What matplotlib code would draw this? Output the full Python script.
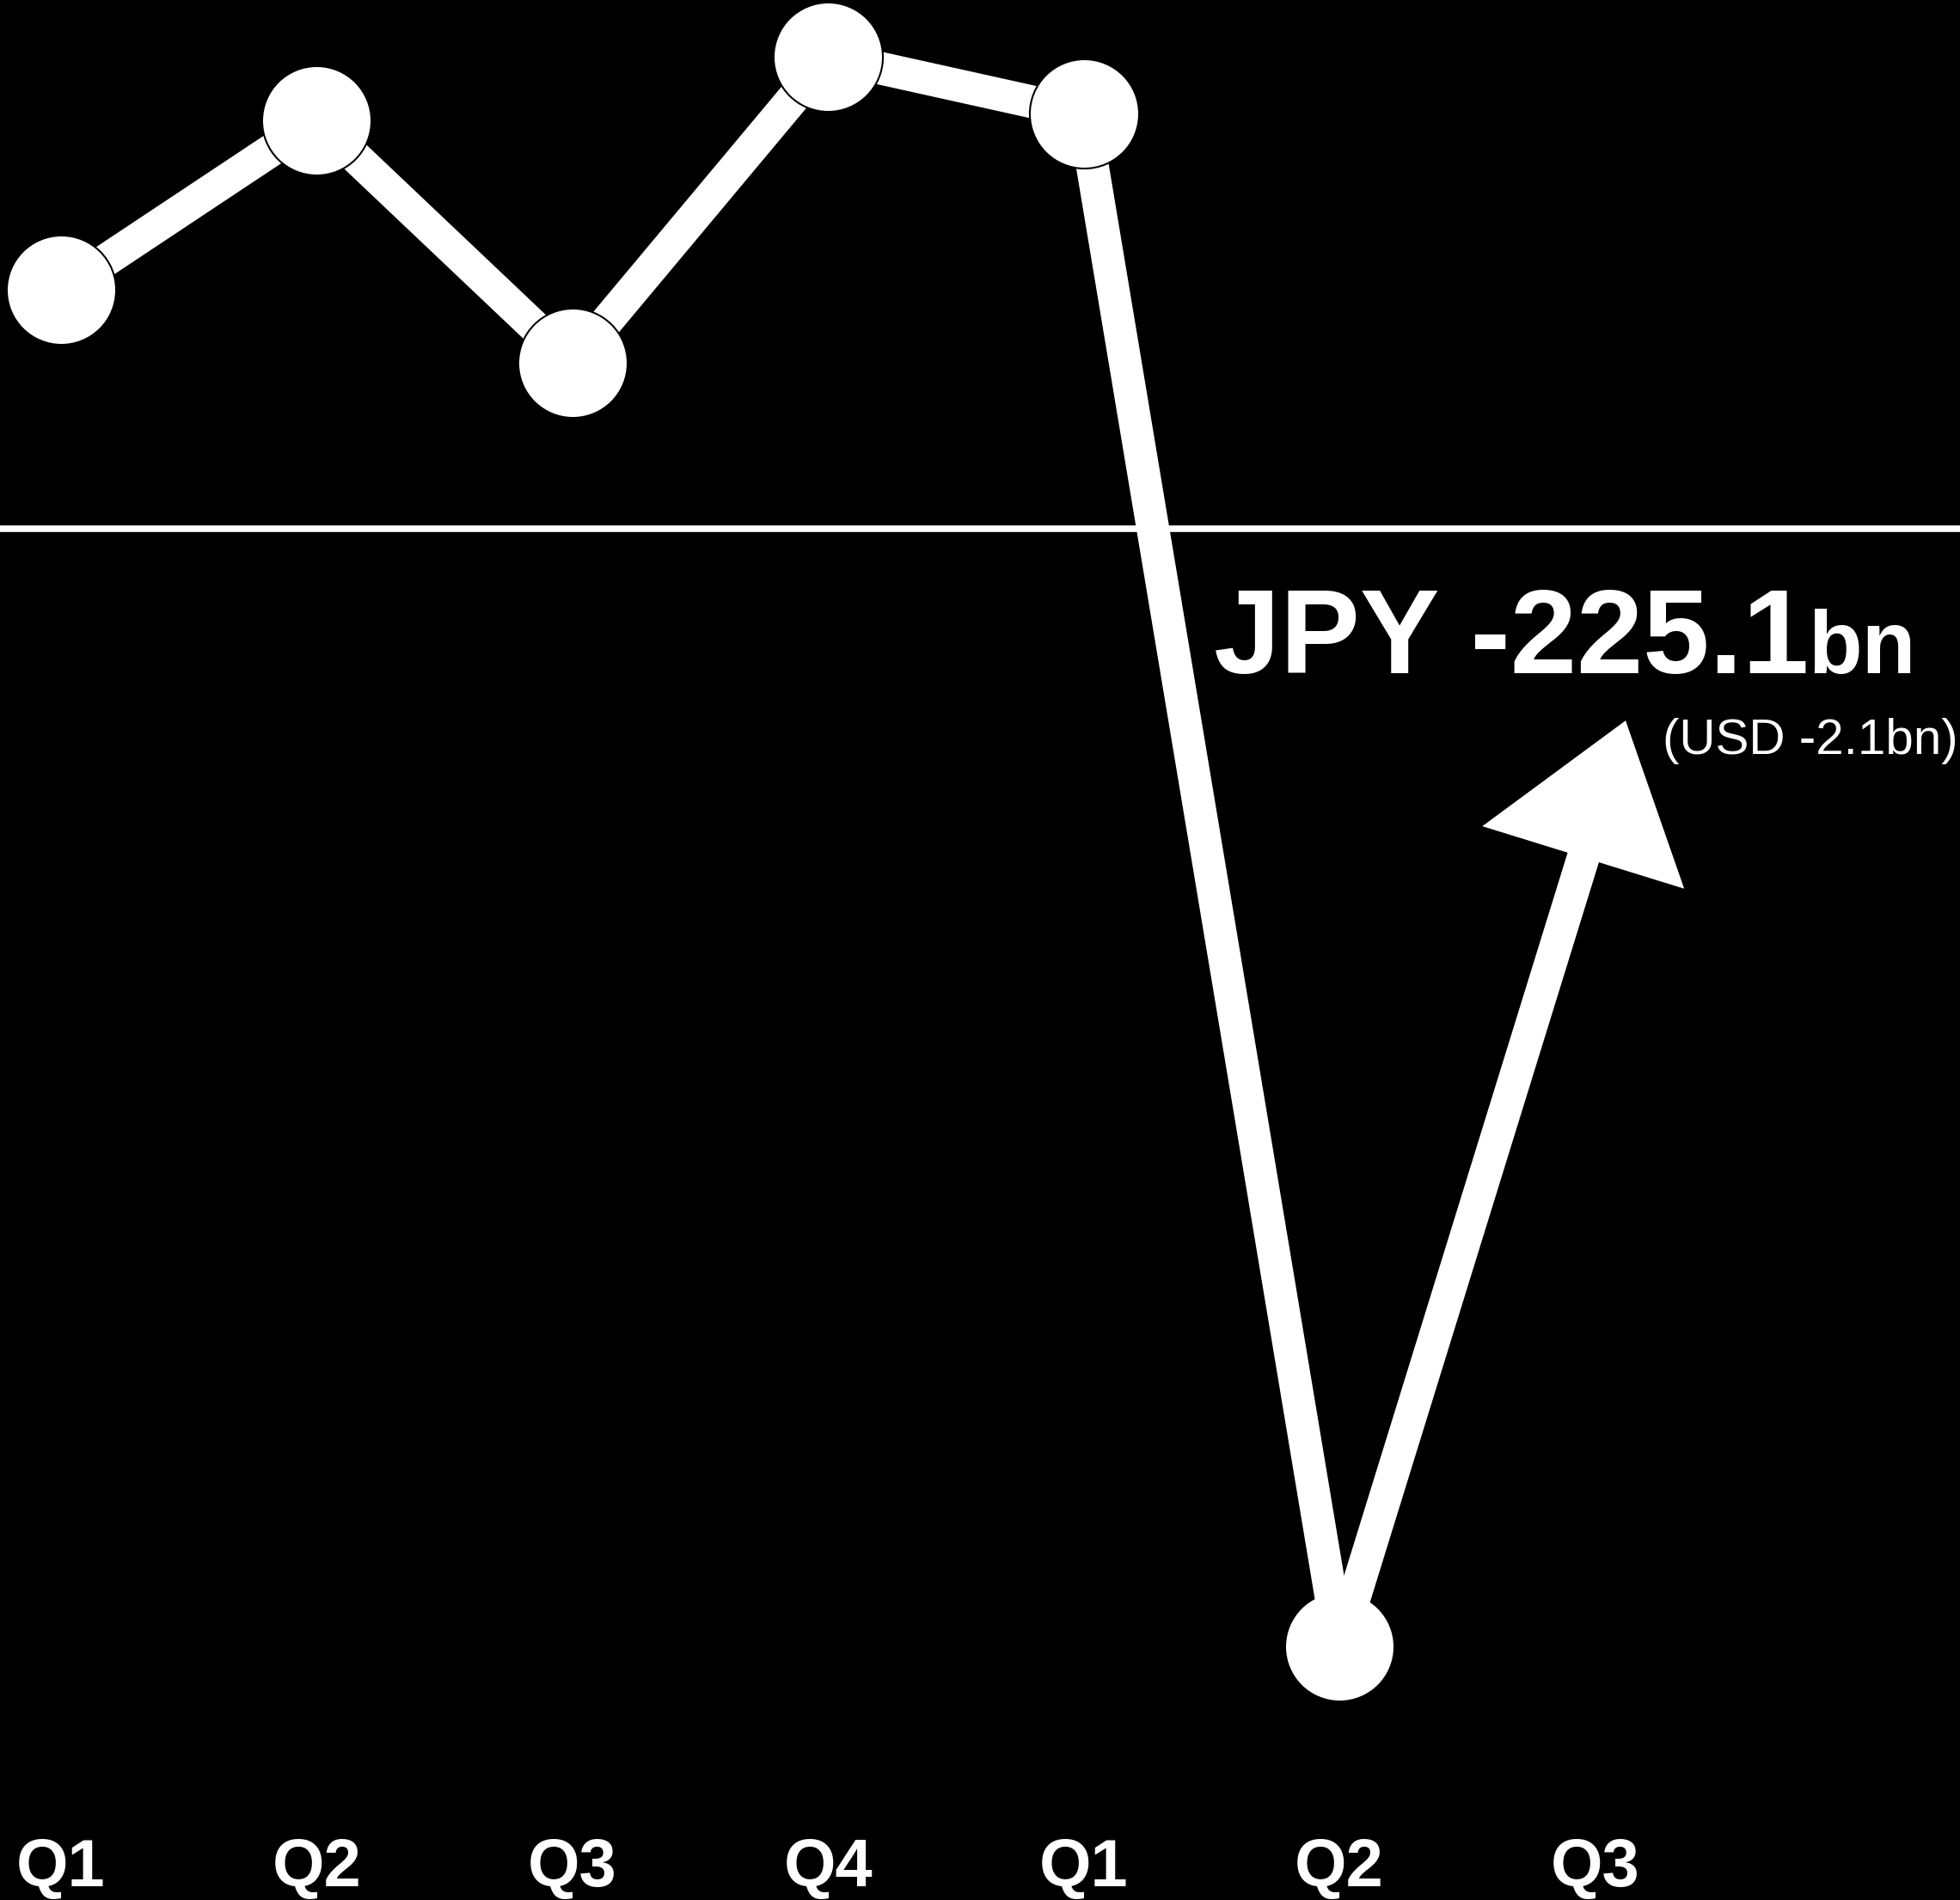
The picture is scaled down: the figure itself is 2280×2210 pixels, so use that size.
import matplotlib
matplotlib.use("Agg")
import matplotlib.pyplot as plt
from matplotlib.patches import FancyArrowPatch

# ----------------------------
# data (JPY bn, quarterly)
# ----------------------------
quarters = ["Q1", "Q2", "Q3", "Q4", "Q1", "Q2", "Q3"]
values = [48.0, 82.2, 33.4, 95.0, 83.6, -225.1]   # last point = latest quarter
arrow_tip = (6.12, -38.7)                          # rebound arrow end (next quarter)
label_main = "JPY -225.1"
label_unit = "bn"
label_usd = "(USD -2.1bn)"

W, H, DPI = 2280, 2210, 100
plt.rcParams['font.family'] = ['Liberation Sans', 'DejaVu Sans']

fig = plt.figure(figsize=(W / DPI, H / DPI), dpi=DPI, facecolor="black")
ax = fig.add_axes([0, 0, 1, 1], facecolor="black")
ax.set_xlim(-0.2387, 7.428)
ax.set_ylim(-276.2, 106.4)
ax.axis("off")

x = list(range(len(values)))

# zero line
ax.axhline(0, color="white", lw=5.5, zorder=1)

# main line
ax.plot(x, values, color="white", lw=27.4, solid_joinstyle="round", zorder=2)

# rebound arrow from last point
arr = FancyArrowPatch((x[-1], values[-1]), arrow_tip,
                      arrowstyle="simple,head_length=120,head_width=177,tail_width=27.4",
                      mutation_scale=1, color="white", lw=0,
                      shrinkA=0, shrinkB=0, zorder=2)
ax.add_patch(arr)

# markers (thin black rim, none on the last one)
ax.plot(x[:-1], values[:-1], "o", ms=91.5, mfc="white", mec="black", mew=1.5, zorder=3)
ax.plot(x[-1:], values[-1:], "o", ms=90, mfc="white", mec="white", mew=0, zorder=3)

# quarter labels along the bottom
for i, q in enumerate(quarters):
    ax.text(i, 16 / H, q, transform=ax.get_xaxis_transform(), ha="center",
            va="baseline", color="white", fontsize=56, fontweight="bold")

# value annotation
fig.text(1412 / W, 1 - 783 / H, label_main, ha="left", va="baseline",
         color="white", fontsize=100, fontweight="bold")
fig.text(2103 / W, 1 - 783 / H, label_unit, ha="left", va="baseline",
         color="white", fontsize=74, fontweight="bold")
fig.text(2278 / W, 1 - 877 / H, label_usd, ha="right", va="baseline",
         color="white", fontsize=42)

fig.savefig("out.png", dpi=DPI, facecolor="black")
